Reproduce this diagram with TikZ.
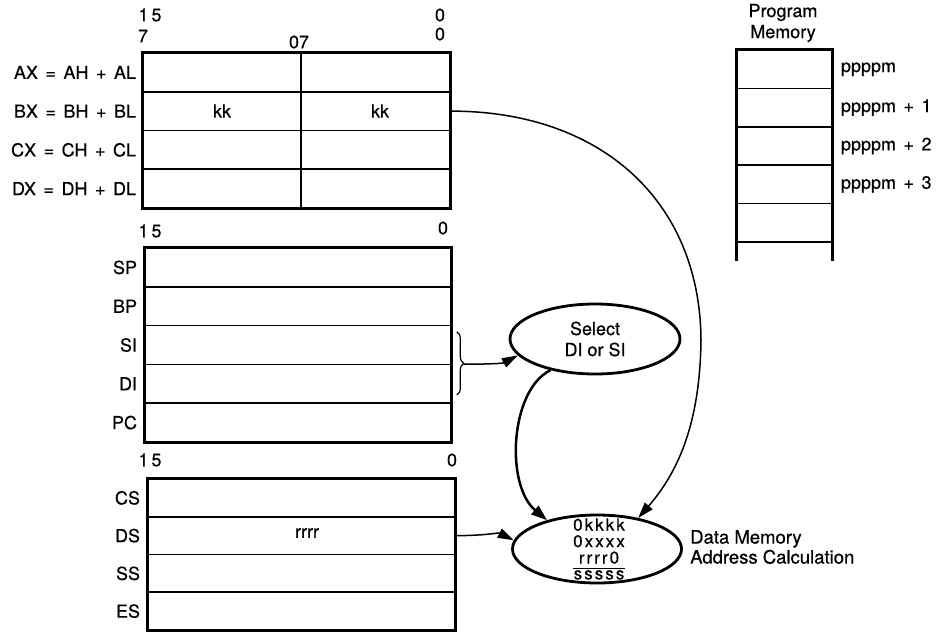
\documentclass[tikz,border=0pt]{standalone}
\usepackage{fontspec}
\setmainfont[FakeBold=0.5]{TeX Gyre Heros}
\newfontfamily\regfont[WordSpace=1.5,FakeBold=0.5]{TeX Gyre Heros}
\usetikzlibrary{arrows.meta,calc,positioning,shapes.geometric,decorations.pathreplacing}

\tikzset{
  frame/.style={line width=2.8pt},
  cell/.style={draw,line width=1.6pt,inner sep=0pt},
  reglabel/.style={inner sep=0pt,font=\fontsize{18}{21}\regfont},
  bitno/.style={inner sep=0pt,font=\fontsize{18}{21}\selectfont},
  bubble/.style={ellipse,draw,line width=2.8pt,minimum width=170pt,minimum height=70pt,
    inner sep=0pt,align=center,font=\fontsize{18}{21}\selectfont},
  thinarrow/.style={line width=1.5pt,-{Triangle[length=16pt,width=10pt]}},
  thickarrow/.style={line width=2.5pt,-{Triangle[length=16pt,width=11pt]}},
}

\begin{document}
\begin{tikzpicture}[x=1pt,y=-1pt]
  \useasboundingbox (0,0) rectangle (940,635);

  % general registers
  \foreach \lab/\nm [count=\i] in {AX = AH + AL/ax, BX = BH + BL/bx, CX = CH + CL/cx, DX = DH + DL/dx} {
    \node[cell,minimum width=307pt,minimum height=38.75pt] (\nm) at (296.5,{53+38.75*(\i-0.5)}) {};
    \node[reglabel,left=6pt of \nm] (\nm-lab) {\lab};
  }
  \draw[frame] (ax.north west) rectangle (dx.south east);
  \draw[line width=1.6pt] ([xshift=4.5pt]ax.north) -- ([xshift=4.5pt]dx.south);
  \node[bitno] (bxhi) at (222,111) {kk};
  \node[bitno] (bxlo) at (380,111) {kk};
  \node[bitno] (t15) at (150,15) {1\,5};
  \node[bitno] (t7) at (143,36) {7};
  \node[bitno] (t07) at (299,42) {07};
  \node[bitno] (t0a) at (440,15) {0};
  \node[bitno] (t0b) at (440,34) {0};

  % pointer and index registers
  \foreach \lab/\nm [count=\i] in {SP/sp, BP/bp, SI/si, DI/di, PC/pc} {
    \node[cell,minimum width=306pt,minimum height=38.8pt] (\nm) at (298,{248+38.8*(\i-0.5)}) {};
    \node[reglabel,left=7pt of \nm] (\nm-lab) {\lab};
  }
  \draw[frame] (sp.north west) rectangle (pc.south east);
  \node[bitno] (m15) at (150,231) {1\,5};
  \node[bitno] (m0) at (443,228) {0};

  % segment registers
  \foreach \lab/\nm [count=\i] in {CS/cs, DS/ds, SS/ss, ES/es} {
    \node[cell,minimum width=307pt,minimum height=37.75pt] (\nm) at (301.5,{479+37.75*(\i-0.5)}) {};
    \node[reglabel,left=7pt of \nm] (\nm-lab) {\lab};
  }
  \draw[frame] (cs.north west) rectangle (es.south east);
  \node[bitno] (dsval) at (307,533) {rrrr};
  \node[bitno] (b15) at (150,460) {1\,5};
  \node[bitno] (b0) at (452,460) {0};

  % program memory
  \foreach \i in {1,...,5}
    \node[cell,minimum width=95pt,minimum height=38.4pt] (pm\i) at (784.5,{50+38.4*(\i-0.5)}) {};
  \draw[frame] ([yshift=-18pt]pm5.south west) -- (pm1.north west) -- (pm1.north east)
    -- ([yshift=-18pt]pm5.south east);
  \foreach \i/\lab in {1/ppppm, 2/ppppm + 1, 3/ppppm + 2, 4/ppppm + 3}
    \node[reglabel,right=8pt of pm\i] (pmlab\i) {\lab};
  \node[bitno,align=center] (pmhead) at (783,23) {Program\\Memory};

  % selection and address calculation
  \node[bubble] (sel) at (595,339) {Select\\DI or SI};
  \node[bubble,minimum width=169pt,minimum height=68pt] (dmem) at (597,549) {};
  \node[inner sep=0pt,font=\fontsize{17}{19}\selectfont\addfontfeature{LetterSpace=12}] (dtext) at (599,551)
    {\renewcommand\arraystretch{0.76}\setlength\arrayrulewidth{1.4pt}%
     \begin{tabular}{@{}c@{}}0kkkk\\0xxxx\\rrrr0\\\hline sssss\end{tabular}};
  \node[inner sep=0pt,anchor=west,align=left,font=\fontsize{18.5}{20}\selectfont] (dlab) at (690,547)
    {Data Memory\\Address Calculation};

  \draw[line width=1.2pt,decorate,decoration={brace,amplitude=7pt}]
    ([shift={(5,7)}]si.north east) -- ([shift={(5,-9)}]di.south east);
  \coordinate (brtip) at ($(si.south east)+(12,-1)$);

  \draw[thinarrow] (bx.east) .. controls (600,111) and (700,200) .. (701,340)
    .. controls (700,420) and (680,470) .. (dmem.37);
  \draw[thickarrow] (sel.215) .. controls (510,390) and (505,485) .. (dmem.150);
  \draw[thinarrow] (brtip) .. controls +(25,0) and +(-15,8) .. (sel.192);
  \draw[thinarrow] (ds.east) .. controls +(32,0) and +(-16,-8) .. (dmem.174);
\end{tikzpicture}
\end{document}
